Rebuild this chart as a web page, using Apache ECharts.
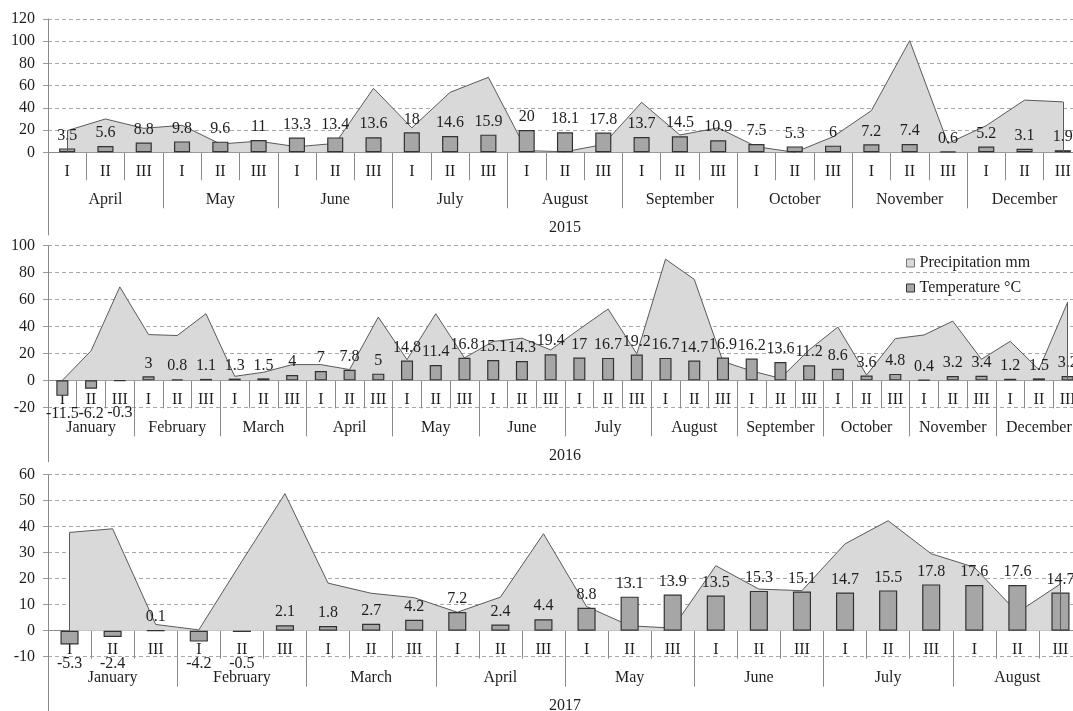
<!DOCTYPE html>
<html>
<head>
<meta charset="utf-8">
<script src="https://cdn.jsdelivr.net/npm/echarts@6/dist/echarts.min.js"></script>
<style>
html,body{margin:0;padding:0;background:#fff;}
#chart{width:1073px;height:711px;}
</style>
</head>
<body>
<div id="chart"></div>
<script>
// ---------- data ----------
const decades = ['I', 'II', 'III'];

const months2015 = ['April', 'May', 'June', 'July', 'August', 'September', 'October', 'November', 'December'];
const precip2015 = [19.5, 30, 21.6, 24.3, 7.5, 10, 5, 8, 57.6, 22, 54, 67.5, 1.5, 0.5, 7, 45, 15.6, 22, 5, 0, 14, 37.5, 100.5, 8, 24, 47, 45.4];
const temp2015 = [3.5, 5.6, 8.8, 9.8, 9.6, 11, 13.3, 13.4, 13.6, 18, 14.6, 15.9, 20, 18.1, 17.8, 13.7, 14.5, 10.9, 7.5, 5.3, 6, 7.2, 7.4, 0.6, 5.2, 3.1, 1.9];

const months2016 = ['January', 'February', 'March', 'April', 'May', 'June', 'July', 'August', 'September', 'October', 'November', 'December'];
const precip2016 = [0, 22, 69.4, 34, 33.3, 49.5, 3, 6, 11.7, 11.7, 8, 47, 15.4, 49.5, 16.7, 28.9, 31.3, 22.6, 38, 53, 19.7, 90, 75, 14, 7, 1.5, 22.6, 39.6, 4, 31, 33.7, 44, 15.7, 29, 8, 58];
const temp2016 = [-11.5, -6.2, -0.3, 3, 0.8, 1.1, 1.3, 1.5, 4, 7, 7.8, 5, 14.8, 11.4, 16.8, 15.1, 14.3, 19.4, 17, 16.7, 19.2, 16.7, 14.7, 16.9, 16.2, 13.6, 11.2, 8.6, 3.6, 4.8, 0.4, 3.2, 3.4, 1.2, 1.5, 3.2];

const months2017 = ['January', 'February', 'March', 'April', 'May', 'June', 'July', 'August'];
const precip2017 = [37.8, 39.2, 2.4, 0.3, 26.7, 52.7, 18.3, 14.4, 12.7, 7.1, 12.9, 37.3, 9.3, 1.9, 1, 25, 16, 15.4, 33.4, 42.3, 29.6, 24.4, 7, 18];
const temp2017 = [-5.3, -2.4, 0.1, -4.2, -0.5, 2.1, 1.8, 2.7, 4.2, 7.2, 2.4, 4.4, 8.8, 13.1, 13.9, 13.5, 15.3, 15.1, 14.7, 15.5, 17.8, 17.6, 17.6, 14.7];

const years = ['2015', '2016', '2017'];
const seriesNames = ['Precipitation mm', 'Temperature °C'];

// ---------- styling / layout ----------
const FONT = 'Liberation Serif';
const TXT = '#1e1e1e';
const AXIS = '#8a8a8a';
const txt = { fontFamily: FONT, fontSize: 16, color: TXT };
const LEFT = 48, WIDTH = 1034;

const grids = [], xAxes = [], yAxes = [], series = [];

function addGrid(top, height) {
  grids.push({ left: LEFT, width: WIDTH, top: top, height: height, containLabel: false, outerBoundsMode: 'none' });
  return grids.length - 1;
}

function addPanel(months, precip, temp, year, lay, yMin, yMax, yStep) {
  const cats = months.flatMap(() => decades);

  // data grid (full value range)
  const g = addGrid(lay.top, lay.height);
  const yi = yAxes.length;
  yAxes.push({
    gridIndex: g, type: 'value', min: yMin, max: yMax, interval: yStep,
    axisLine: { show: true, lineStyle: { color: AXIS, width: 1 } },
    axisTick: { show: true, length: 5, lineStyle: { color: '#9a9a9a' } },
    axisLabel: Object.assign({ margin: 13 }, txt),
    splitLine: { show: true, lineStyle: { color: '#a8a8a8', width: 1, type: [4, 3] } }
  });
  const xi = xAxes.length;
  xAxes.push({ gridIndex: g, type: 'category', data: cats, show: false });

  // category-axis grid: its bottom edge sits on the zero line
  const zeroH = lay.height * yMax / (yMax - yMin);
  const gb = addGrid(lay.top, zeroH);
  yAxes.push({ gridIndex: gb, type: 'value', min: 0, max: 1, show: false });
  xAxes.push({
    gridIndex: gb, type: 'category', position: 'bottom', data: cats,
    axisLine: { show: true, onZero: false, lineStyle: { color: AXIS, width: 1 } },
    axisTick: { show: true, interval: 0, length: 28, lineStyle: { color: AXIS } },
    axisLabel: Object.assign({ interval: 0, margin: 11 }, txt),
    splitLine: { show: false }
  });
  xAxes.push({
    gridIndex: gb, type: 'category', position: 'bottom', data: months,
    axisLine: { show: false, onZero: false },
    axisTick: { show: true, interval: 0, length: 56, lineStyle: { color: AXIS } },
    axisLabel: Object.assign({ interval: 0, margin: 39 }, txt),
    splitLine: { show: false },
    name: year, nameLocation: 'middle', nameGap: 67, nameTextStyle: txt
  });

  const n = precip.length;
  series.push({
    type: 'line', name: seriesNames[0], xAxisIndex: xi, yAxisIndex: yi, data: precip,
    symbol: 'none', z: 1,
    lineStyle: { color: '#5a5a5a', width: 1 },
    itemStyle: { color: '#d9d9d9' },
    areaStyle: { color: '#d9d9d9', opacity: 1 },
    markLine: {
      silent: true, symbol: 'none', animation: false, label: { show: false },
      lineStyle: { color: '#5a5a5a', width: 1, type: 'solid' },
      data: [
        [{ coord: [0, 0] }, { coord: [0, precip[0]] }],
        [{ coord: [n - 1, 0] }, { coord: [n - 1, precip[n - 1]] }]
      ]
    }
  });
  series.push({
    type: 'bar', name: seriesNames[1], xAxisIndex: xi, yAxisIndex: yi, z: 2,
    data: temp.map(v => v < 0
      ? { value: v, label: { position: ['50%', 33], align: 'center', verticalAlign: 'middle' } }
      : v),
    barWidth: '42%',
    itemStyle: { color: '#a6a6a6', borderColor: '#333', borderWidth: 1.2 },
    label: Object.assign({ show: true, position: 'top', distance: 5 }, txt)
  });

  // extension of the vertical axis line below the panel
  const g2 = addGrid(lay.extTop, lay.extHeight);
  yAxes.push({
    gridIndex: g2, type: 'value', min: 0, max: 1,
    axisLine: { show: true, lineStyle: { color: AXIS, width: 1 } },
    axisTick: { show: false }, axisLabel: { show: false }, splitLine: { show: false }
  });
  xAxes.push({ gridIndex: g2, type: 'category', data: [''], show: false });
}

addPanel(months2015, precip2015, temp2015, years[0], { top: 19, height: 133.3, extTop: 152.3, extHeight: 82.7 }, 0, 120, 20);
addPanel(months2016, precip2016, temp2016, years[1], { top: 245.7, height: 161.6, extTop: 407.3, extHeight: 54.4 }, -20, 100, 20);
addPanel(months2017, precip2017, temp2017, years[2], { top: 474.7, height: 182, extTop: 656.7, extHeight: 54.3 }, -10, 60, 10);

const chart = echarts.init(document.getElementById('chart'), null, { renderer: 'canvas' });
chart.setOption({
  backgroundColor: '#ffffff',
  animation: false,
  textStyle: { fontFamily: FONT },
  legend: {
    orient: 'vertical', left: 906, top: 255, padding: 0,
    itemWidth: 8, itemHeight: 8, itemGap: 9, icon: 'rect',
    textStyle: txt,
    data: [
      { name: seriesNames[0], itemStyle: { color: '#d9d9d9', borderColor: '#777', borderWidth: 1 } },
      { name: seriesNames[1], itemStyle: { color: '#a6a6a6', borderColor: '#333', borderWidth: 1 } }
    ]
  },
  grid: grids,
  xAxis: xAxes,
  yAxis: yAxes,
  series: series
});
</script>
</body>
</html>
